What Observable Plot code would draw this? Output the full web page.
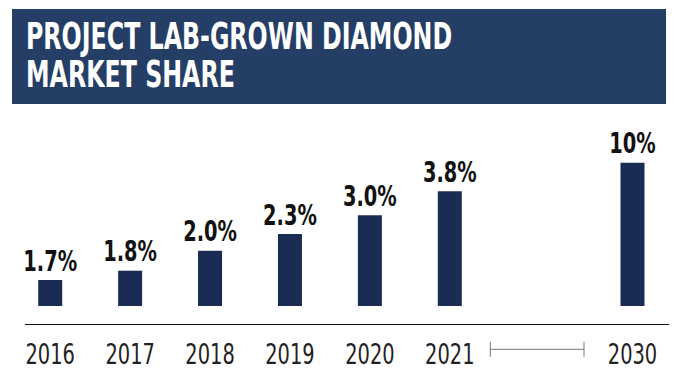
<!DOCTYPE html>
<html><head><meta charset="utf-8">
<script src="https://cdn.jsdelivr.net/npm/d3@7"></script>
<script src="https://cdn.jsdelivr.net/npm/@observablehq/plot@0.6"></script>
<style>
body{margin:0;background:#fff;width:678px;height:388px;overflow:hidden;}
#banner{position:absolute;left:12px;top:9px;width:654px;height:95px;background:#243e66;}
.tline{position:absolute;left:14px;color:#fff;font-family:"DejaVu Sans Condensed","DejaVu Sans",sans-serif;font-weight:bold;font-size:37px;line-height:38px;height:38px;transform:scaleX(0.712);transform-origin:left top;white-space:nowrap;}
#chart{position:absolute;left:0;top:104px;}
</style></head>
<body>
<div id="banner"><div class="tline" style="top:9px">PROJECT LAB-GROWN DIAMOND</div><div class="tline" style="top:47px">MARKET SHARE</div></div>
<div id="chart"></div>
<script>
const years = [2016, 2017, 2018, 2019, 2020, 2021, 2030];
const share = [1.7, 1.8, 2.0, 2.3, 3.0, 3.8, 10];
const labels = ["1.7%", "1.8%", "2.0%", "2.3%", "3.0%", "3.8%", "10%"];
const gapFrom = 2021, gapTo = 2030;

const data = years.map((y, i) => ({year: y, value: share[i], label: labels[i]}));
const font = '"DejaVu Sans Condensed","DejaVu Sans",sans-serif';

const connector = (index, scales) => {
  const g = d3.create("svg:g");
  const x1 = scales.x(gapFrom) + 41, x2 = scales.x(gapTo) - 48, y = 245.3;
  g.append("line").attr("x1", x1).attr("x2", x2).attr("y1", y).attr("y2", y);
  g.append("line").attr("x1", x1).attr("x2", x1).attr("y1", y - 7.5).attr("y2", y + 7.5);
  g.append("line").attr("x1", x2).attr("x2", x2).attr("y1", y - 7.5).attr("y2", y + 7.5);
  g.attr("stroke", "#777").attr("stroke-width", 1);
  return g.node();
};

const plot = Plot.plot({
  width: 678,
  height: 284,
  marginLeft: 25,
  marginRight: 10,
  marginTop: 0,
  marginBottom: 64,
  style: {fontFamily: font, background: "transparent", overflow: "visible"},
  x: {type: "linear", domain: [2016, 2021, 2030], range: [49.7, 449.3, 632], axis: null},
  y: {type: "linear", domain: [0, ...share], range: [202, 176, 166.7, 146.7, 130, 111.3, 87.3, 58.7], axis: null},
  marks: [
    Plot.ruleX(data, {x: "year", y1: 0, y2: "value", stroke: "#1b2c54", strokeWidth: 24}),
    Plot.text(data, {x: "year", y: "value", text: "label", lineAnchor: "bottom", dy: -10,
      fontSize: 28, fontWeight: "bold", fill: "#111"}),
    Plot.frame({anchor: "bottom", stroke: "#111", strokeWidth: 1.2}),
    Plot.axisX({ticks: years, tickFormat: d => String(d), tickSize: 0, tickPadding: 20,
      fontSize: 28, fill: "#222", label: null}),
    connector
  ]
});
document.getElementById("chart").appendChild(plot);
// condense glyphs to mimic the narrow typeface of the original
plot.querySelectorAll("text").forEach(t => {
  const len = t.getComputedTextLength();
  if (len > 0) {
    t.setAttribute("textLength", (len * 0.77).toFixed(1));
    t.setAttribute("lengthAdjust", "spacingAndGlyphs");
  }
});
</script>
</body></html>
